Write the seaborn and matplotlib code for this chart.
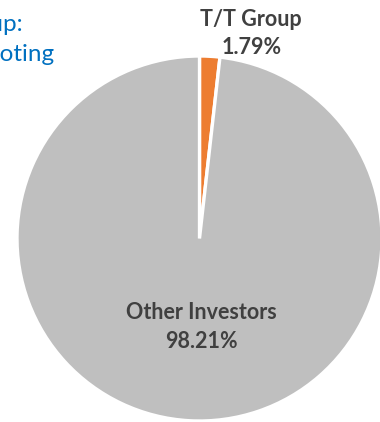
import matplotlib
matplotlib.use("Agg")
import matplotlib.pyplot as plt
import seaborn as sns

# Shareholding split
labels = ["T/T Group", "Other Investors"]
shares = [1.79, 98.21]
colors = ["#ED7D31", "#BFBFBF"]

sns.set_style("white")
plt.rcParams["font.family"] = ["Lato", "DejaVu Sans"]

W, H = 380, 422
fig = plt.figure(figsize=(W / 100, H / 100), dpi=100)
ax = fig.add_axes([0, 0, 1, 1])

# pie centre and radius in pixels
cx, cy, r = 199.5, 238.5, 182.5
ax.pie(shares, colors=colors, startangle=90, counterclock=False,
       radius=1.0, wedgeprops=dict(edgecolor="white", linewidth=2.4))
ax.set_xlim(-cx / r, (W - cx) / r)
ax.set_ylim(-(H - cy) / r, cy / r)
ax.set_aspect("equal", adjustable="box")
ax.axis("off")


def fx(px):
    return px / W


def fy(py):
    return 1 - py / H


label_color = "#404040"
fs = 15.5
fig.text(fx(251), fy(26), labels[0], ha="center", va="baseline",
         fontsize=fs, fontweight="bold", color=label_color)
fig.text(fx(252), fy(54), f"{shares[0]:.2f}%", ha="center", va="baseline",
         fontsize=fs, fontweight="bold", color=label_color)
fig.text(fx(201), fy(319), labels[1], ha="center", va="baseline",
         fontsize=fs, fontweight="bold", color=label_color)
fig.text(fx(201), fy(348), f"{shares[1]:.2f}%", ha="center", va="baseline",
         fontsize=fs, fontweight="bold", color=label_color)

# title running off the left edge
blue = "#0070C0"
fig.text(fx(23), fy(31), "T/T Group:", ha="right", va="baseline",
         fontsize=17.5, color=blue)
fig.text(fx(54), fy(61), "% of Voting", ha="right", va="baseline",
         fontsize=17.5, color=blue)

fig.savefig("out.png", dpi=100)
